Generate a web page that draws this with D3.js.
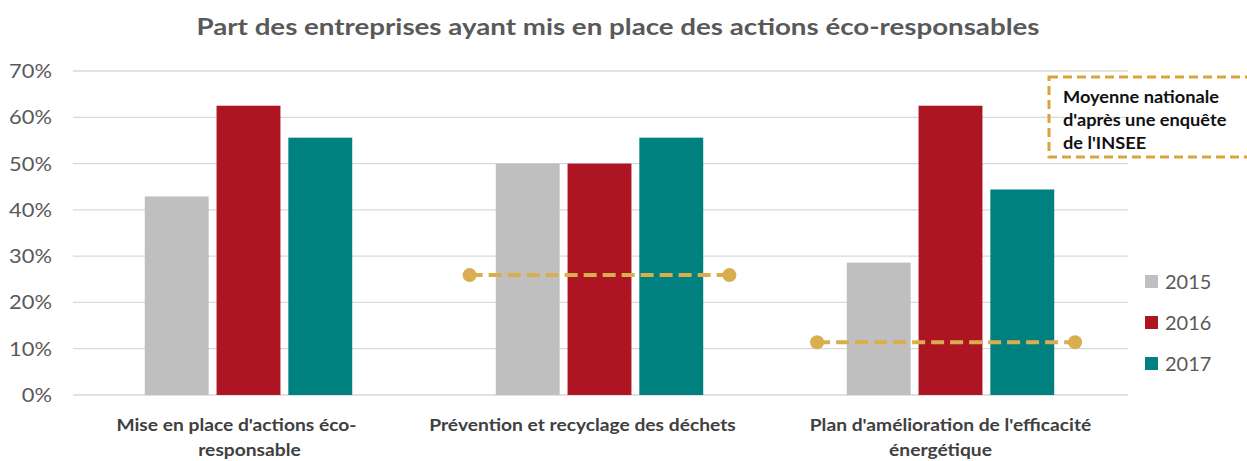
<!DOCTYPE html>
<html><head><meta charset="utf-8">
<script src="https://cdn.jsdelivr.net/npm/d3@7"></script>
<style>body{margin:0;background:#fff}svg{display:block}text{font-family:Lato,"Open Sans",sans-serif}</style>
</head><body><svg id="c" width="1247" height="461"></svg>
<script>
const categories = [["Mise en place d'actions éco-", "responsable"], ["Prévention et recyclage des déchets"], ["Plan d'amélioration de l'efficacité", "énergétique"]];
const years = ["2015", "2016", "2017"];
const values2015 = [42.9, 50.0, 28.6];
const values2016 = [62.5, 50.0, 62.5];
const values2017 = [55.6, 55.6, 44.4];
const avgValues = [null, 25.9, 11.4];
const avgStart = [null, 1.13, 2.12];
const avgEnd = [null, 1.87, 2.855];
const yTicks = [0, 10, 20, 30, 40, 50, 60, 70];
const colors = ["#BFBFBF", "#AE1523", "#00807F"];
const title = "Part des entreprises ayant mis en place des actions éco-responsables";
const noteLines = ["Moyenne nationale", "d'après une enquête", "de l'INSEE"];

const svg = d3.select("#c");
const L = 73, R = 1126, T = 71, B = 395;
const y = d3.scaleLinear().domain([0, 70]).range([B, T]);
const x0 = d3.scaleBand().domain(d3.range(categories.length)).range([L, R]).paddingInner(0).paddingOuter(0);
const x1 = d3.scaleBand().domain(years).range([0, x0.bandwidth()]).paddingInner(0.11).paddingOuter(1.0);
const xc = d3.scaleLinear().domain([0, categories.length]).range([L, R]);

function stretch(sel, k) {
  sel.each(function () {
    const w = this.getComputedTextLength();
    d3.select(this).attr("textLength", w * k).attr("lengthAdjust", "spacingAndGlyphs");
  });
}

const tt = svg.append("text").attr("x", 618).attr("y", 35).attr("text-anchor", "middle")
  .attr("font-size", 23).attr("font-weight", 700).attr("fill", "#595959").text(title);
tt.attr("textLength", 843).attr("lengthAdjust", "spacingAndGlyphs");

// grid
svg.append("g").selectAll("line").data(yTicks).join("line")
  .attr("x1", L).attr("x2", R + 2).attr("y1", d => y(d)).attr("y2", d => y(d))
  .attr("stroke", "#D9D9D9").attr("stroke-width", 1.3);
const yl = svg.append("g").selectAll("text").data(yTicks).join("text")
  .attr("x", 52).attr("y", d => y(d) + 7).attr("text-anchor", "end")
  .attr("font-size", 19).attr("fill", "#595959").text(d => d + "%");
stretch(yl, 1.15);

const series = [values2015, values2016, values2017];
years.forEach((yr, i) => {
  svg.append("g").selectAll("rect").data(series[i]).join("rect")
    .attr("x", (d, j) => x0(j) + x1(yr)).attr("width", x1.bandwidth())
    .attr("y", d => y(d)).attr("height", d => B - y(d)).attr("fill", colors[i]);
});

// average lines
const avgColor = "#D9AE4F";
avgValues.forEach((v, j) => {
  if (v == null) return;
  const g = svg.append("g");
  g.append("line").attr("x1", xc(avgStart[j])).attr("x2", xc(avgEnd[j]))
    .attr("y1", y(v)).attr("y2", y(v)).attr("stroke", avgColor).attr("stroke-width", 4)
    .attr("stroke-dasharray", "13,6");
  [avgStart[j], avgEnd[j]].forEach(p => g.append("circle").attr("cx", xc(p)).attr("cy", y(v)).attr("r", 7).attr("fill", avgColor));
});

// category labels
const labelShift = [[-12, 1], [-17], [0, -10]];
categories.forEach((lines, j) => {
  lines.forEach((ln, k) => {
    const t = svg.append("text").attr("text-anchor", "middle").attr("font-size", 17).attr("font-weight", 700).attr("fill", "#404040")
      .attr("x", x0(j) + x0.bandwidth() / 2 + labelShift[j][k]).attr("y", 431 + k * 25).text(ln);
    stretch(t, 1.13);
  });
});

// legend
years.forEach((yr, i) => {
  const ly = 282 + i * 41;
  svg.append("rect").attr("x", 1145).attr("y", ly - 7).attr("width", 13).attr("height", 13).attr("fill", colors[i]);
  const t = svg.append("text").attr("x", 1165).attr("y", ly + 7).attr("font-size", 19).attr("fill", "#595959").text(yr);
  stretch(t, 1.05);
});

// note box
svg.append("rect").attr("x", 1049).attr("y", 77).attr("width", 230).attr("height", 80)
  .attr("fill", "none").attr("stroke", "#D9A43C").attr("stroke-width", 3).attr("stroke-dasharray", "9,5");
noteLines.forEach((ln, k) => {
  const t = svg.append("text").attr("font-size", 17).attr("font-weight", 700).attr("fill", "#111")
    .attr("x", 1063).attr("y", 103 + k * 23).text(ln);
  stretch(t, 1.07);
});
</script></body></html>
